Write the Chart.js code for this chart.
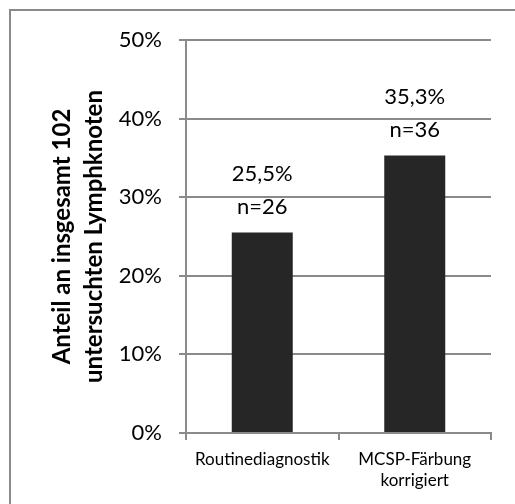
<!DOCTYPE html>
<html>
<head>
<meta charset="utf-8">
<script src="https://cdn.jsdelivr.net/npm/chart.js@4/dist/chart.umd.min.js"></script>
<style>
  html, body { margin: 0; padding: 0; background: #ffffff; }
  #wrap { position: relative; width: 515px; height: 504px; }
</style>
</head>
<body>
<div id="wrap"><canvas id="c" width="515" height="504"></canvas></div>
<script>
// Kategorien und Werte (Anteil in %, Anzahl Lymphknoten)
const categories = [['Routinediagnostik'], ['MCSP-Färbung', 'korrigiert']];
const shares = [25.5, 35.3];
const counts = [26, 36];
const yTicks = [0, 10, 20, 30, 40, 50];
const yTitle = ['Anteil an insgesamt 102', 'untersuchten Lymphknoten'];

const FONT = 'Lato, "Open Sans", sans-serif';
const GRID = '#8a8a8a';

// Rahmen oben und links um die Grafik
const framePlugin = {
  id: 'frame',
  beforeDraw(chart) {
    const ctx = chart.ctx;
    ctx.save();
    ctx.strokeStyle = GRID;
    ctx.lineWidth = 2;
    ctx.beginPath();
    ctx.moveTo(10, chart.height);
    ctx.lineTo(10, 10);
    ctx.lineTo(chart.width, 10);
    ctx.stroke();
    ctx.restore();
  }
};

// Beschriftung über den Balken: Prozentwert und n
const valueLabels = {
  id: 'valueLabels',
  afterDatasetsDraw(chart) {
    const ctx = chart.ctx;
    const meta = chart.getDatasetMeta(0);
    ctx.save();
    ctx.fillStyle = '#000000';
    ctx.font = '22px ' + FONT;
    ctx.textAlign = 'center';
    ctx.textBaseline = 'middle';
    meta.data.forEach((bar, i) => {
      const pct = shares[i].toFixed(1).replace('.', ',') + '%';
      ctx.fillText(pct, bar.x, bar.y - 59);
      ctx.fillText('n=' + counts[i], bar.x, bar.y - 26);
    });
    ctx.restore();
  }
};

new Chart(document.getElementById('c'), {
  type: 'bar',
  data: {
    labels: categories,
    datasets: [{
      data: shares,
      backgroundColor: '#262626',
      borderWidth: 0,
      categoryPercentage: 1.0,
      barPercentage: 0.4
    }]
  },
  options: {
    responsive: false,
    animation: false,
    devicePixelRatio: 1,
    layout: { padding: { top: 40, right: 24, bottom: 0, left: 0 } },
    plugins: {
      legend: { display: false },
      tooltip: { enabled: false }
    },
    scales: {
      x: {
        grid: {
          display: true,
          drawOnChartArea: false,
          drawTicks: true,
          tickLength: 7,
          color: GRID,
          lineWidth: 2
        },
        border: { display: true, color: GRID, width: 2 },
        ticks: {
          color: '#000000',
          padding: 9,
          maxRotation: 0,
          autoSkip: false,
          font: { family: FONT, size: 17, lineHeight: 1.25 }
        },
        afterFit(scale) { scale.height = 71; }
      },
      y: {
        min: 0,
        max: 50,
        afterBuildTicks(scale) {
          scale.ticks = yTicks.map(v => ({ value: v }));
        },
        grid: {
          color: GRID,
          lineWidth: 2,
          tickLength: 7,
          drawTicks: true
        },
        border: { display: true, color: GRID, width: 2 },
        ticks: {
          color: '#000000',
          padding: 17,
          font: { family: FONT, size: 22 },
          callback: v => v + '%'
        },
        title: {
          display: true,
          text: yTitle,
          color: '#000000',
          padding: { top: 46, bottom: 0 },
          font: { family: FONT, size: 24, weight: 'bold', lineHeight: 1.34 }
        },
        afterFit(scale) { scale.width = 186; }
      }
    }
  },
  plugins: [framePlugin, valueLabels]
});
</script>
</body>
</html>
